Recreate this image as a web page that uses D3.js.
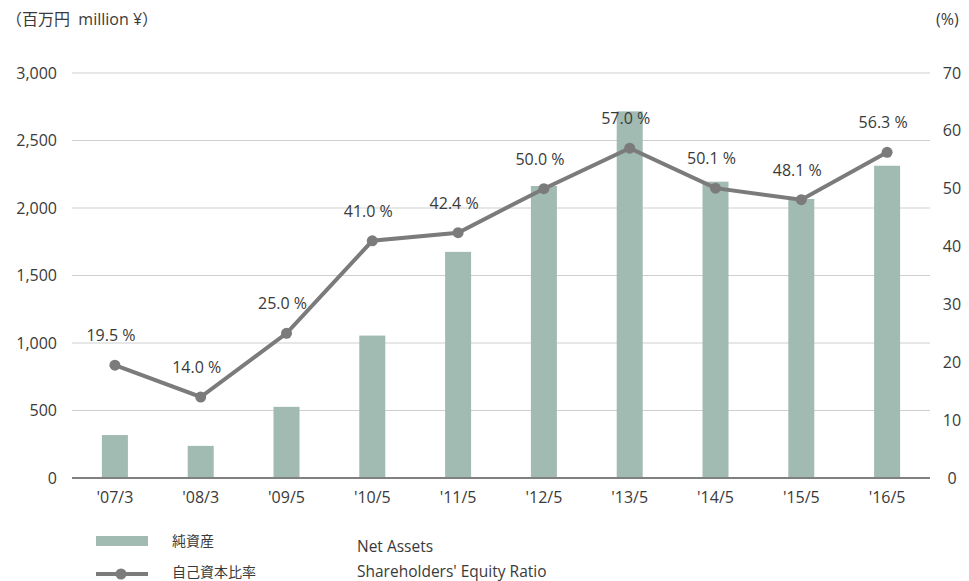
<!DOCTYPE html>
<html>
<head>
<meta charset="utf-8">
<script src="https://cdn.jsdelivr.net/npm/d3@7"></script>
<style>
  body { margin: 0; background: #fff; }
  text { font-family: "Open Sans", "Noto Sans CJK JP", sans-serif; fill: #3a3a3a; }
  .grid line { stroke: #cfcfcf; stroke-width: 1; }
</style>
</head>
<body>
<div id="chart"></div>
<script>
// データ
var periods = ["'07/3", "'08/3", "'09/5", "'10/5", "'11/5", "'12/5", "'13/5", "'14/5", "'15/5", "'16/5"];
var netAssets = [318, 238, 527, 1055, 1675, 2163, 2716, 2195, 2067, 2313];
var equityRatio = [19.5, 14.0, 25.0, 41.0, 42.4, 50.0, 57.0, 50.1, 48.1, 56.3];
var leftTicks = [0, 500, 1000, 1500, 2000, 2500, 3000];
var rightTicks = [0, 10, 20, 30, 40, 50, 60, 70];

var width = 969, height = 581;
var margin = {top: 73, right: 39, bottom: 103, left: 72};
var plotWidth = width - margin.left - margin.right;
var plotHeight = height - margin.top - margin.bottom;

var svg = d3.select('#chart').append('svg').attr('width', width).attr('height', height);
var plot = svg.append('g').attr('transform', 'translate(' + margin.left + ',' + margin.top + ')');

var xs = d3.scaleBand().domain(periods).range([0, plotWidth]);
var yl = d3.scaleLinear().domain([0, 3000]).range([plotHeight, 0]);
var yr = d3.scaleLinear().domain([0, 70]).range([plotHeight, 0]);
var barW = 26;

// グリッド
plot.append('g').attr('class', 'grid')
  .selectAll('line').data(leftTicks.slice(1)).enter().append('line')
  .attr('x1', 0).attr('x2', plotWidth)
  .attr('y1', function(d){ return yl(d); }).attr('y2', function(d){ return yl(d); });

// 左軸ラベル
plot.append('g').selectAll('text').data(leftTicks).enter().append('text')
  .attr('x', -15).attr('y', function(d){ return yl(d); }).attr('dy', '0.35em')
  .attr('text-anchor', 'end').style('font-size', '16px')
  .text(d3.format(','));

// 右軸ラベル
plot.append('g').selectAll('text').data(rightTicks).enter().append('text')
  .attr('x', plotWidth + 22).attr('y', function(d){ return yr(d); }).attr('dy', '0.35em')
  .attr('text-anchor', 'middle').style('font-size', '16px')
  .text(function(d){ return d; });

// 棒
plot.selectAll('rect.bar').data(netAssets).enter().append('rect')
  .attr('class', 'bar')
  .attr('x', function(d, i){ return xs(periods[i]) + xs.bandwidth() / 2 - barW / 2; })
  .attr('y', function(d){ return yl(d); })
  .attr('width', barW)
  .attr('height', function(d){ return plotHeight - yl(d); })
  .attr('fill', '#a1bab2');

// 基線
plot.append('line').attr('x1', 0).attr('x2', plotWidth)
  .attr('y1', plotHeight).attr('y2', plotHeight)
  .attr('stroke', '#808080').attr('stroke-width', 2);

// X軸ラベル
plot.append('g').selectAll('text').data(periods).enter().append('text')
  .attr('x', function(d){ return xs(d) + xs.bandwidth() / 2; })
  .attr('y', plotHeight + 25)
  .attr('text-anchor', 'middle').style('font-size', '16px')
  .text(function(d){ return d; });

// 折れ線
var cx = function(d, i){ return xs(periods[i]) + xs.bandwidth() / 2; };
var line = d3.line().x(cx).y(function(d){ return yr(d); });
plot.append('path').datum(equityRatio)
  .attr('d', line).attr('fill', 'none')
  .attr('stroke', '#7b7b7b').attr('stroke-width', 4);
plot.selectAll('circle.dot').data(equityRatio).enter().append('circle')
  .attr('class', 'dot')
  .attr('cx', cx).attr('cy', function(d){ return yr(d); })
  .attr('r', 5.5).attr('fill', '#7b7b7b');
plot.selectAll('text.lbl').data(equityRatio).enter().append('text')
  .attr('class', 'lbl')
  .attr('x', function(d, i){ return cx(d, i) - 4; })
  .attr('y', function(d){ return yr(d) - 24; })
  .attr('text-anchor', 'middle').style('font-size', '16px')
  .text(function(d){ return d.toFixed(1) + ' %'; });

// 単位
svg.append('text').attr('x', 6).attr('y', 25).style('font-size', '16px')
  .style('white-space', 'pre').text('（百万円  million ¥）');
svg.append('text').attr('x', 936).attr('y', 25).style('font-size', '16px').text('(%)');

// 凡例
var lg = svg.append('g');
lg.append('rect').attr('x', 96).attr('y', 536).attr('width', 52).attr('height', 10).attr('fill', '#a1bab2');
lg.append('line').attr('x1', 96).attr('x2', 148).attr('y1', 574).attr('y2', 574)
  .attr('stroke', '#7b7b7b').attr('stroke-width', 4);
lg.append('circle').attr('cx', 121).attr('cy', 574).attr('r', 5.5).attr('fill', '#7b7b7b');
lg.append('text').attr('x', 172).attr('y', 546).style('font-size', '14px').text('純資産');
lg.append('text').attr('x', 172).attr('y', 577).style('font-size', '14px').text('自己資本比率');
lg.append('text').attr('x', 357).attr('y', 552).style('font-size', '15.5px').text('Net Assets');
lg.append('text').attr('x', 357).attr('y', 577).style('font-size', '15.5px').text("Shareholders' Equity Ratio");
</script>
</body>
</html>
